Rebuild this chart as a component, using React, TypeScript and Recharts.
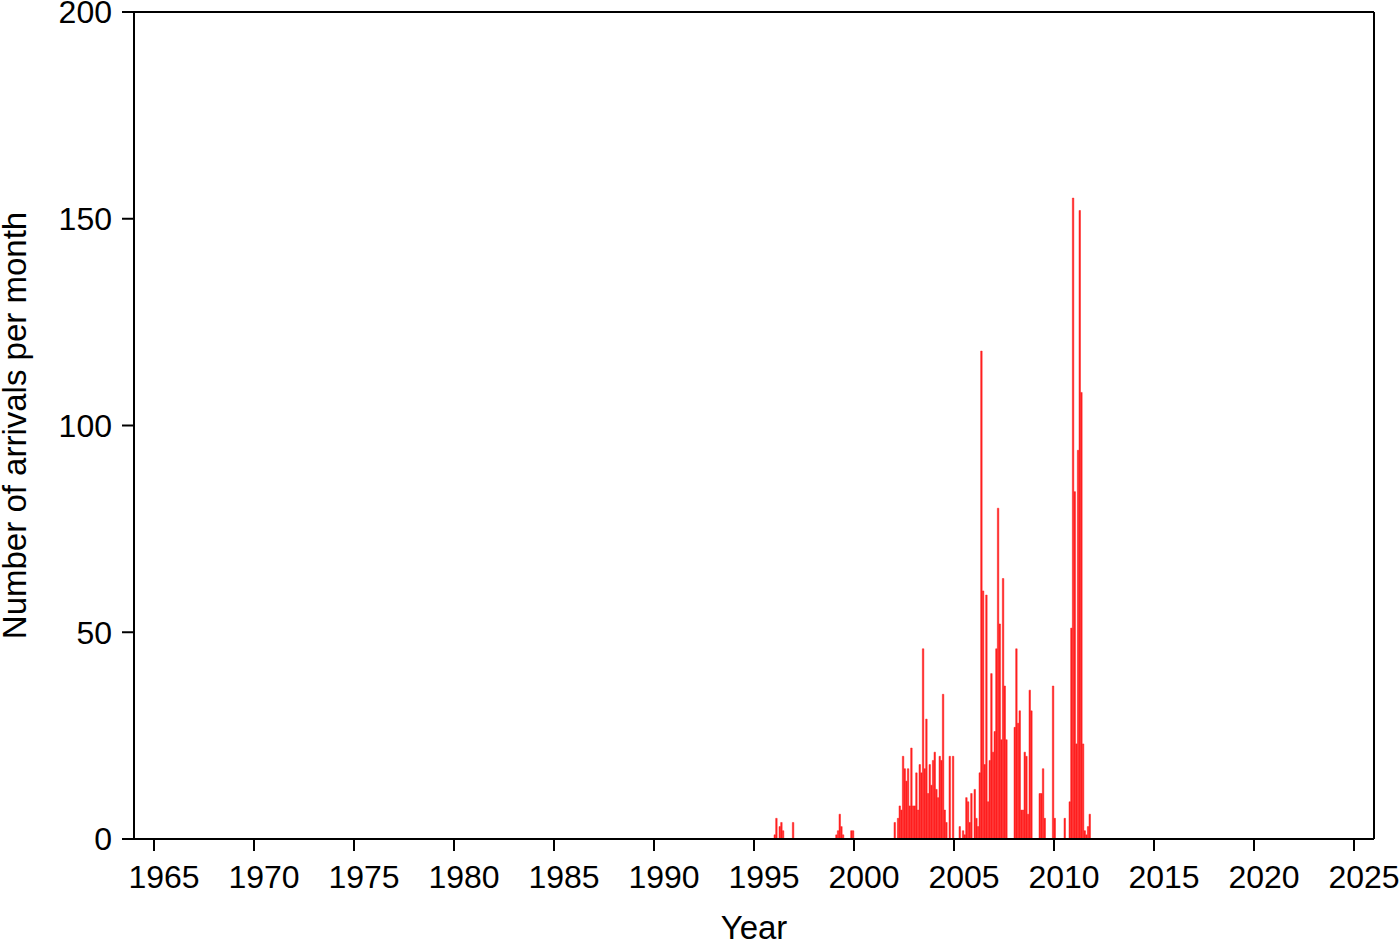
import React from "react";
import { BarChart, Bar, XAxis, YAxis, Label } from "recharts";

// monthly arrival counts, Jan..Dec
const years = [1996, 1997, 1998, 1999, 2000, 2001, 2002, 2003, 2004, 2005, 2006, 2007, 2008, 2009, 2010, 2011];
const counts: number[][] = [
  [1, 5, 0, 3, 4, 2, 0, 0, 0, 0, 0, 4],
  [0, 0, 0, 0, 0, 0, 0, 0, 0, 0, 0, 0],
  [0, 0, 0, 0, 0, 0, 0, 0, 0, 0, 0, 0],
  [0, 1, 2, 6, 3, 1, 0, 0, 0, 0, 2, 2],
  [0, 0, 0, 0, 0, 0, 0, 0, 0, 0, 0, 0],
  [0, 0, 0, 0, 0, 0, 0, 0, 0, 0, 0, 0],
  [4, 0, 5, 8, 7, 20, 17, 14, 17, 8, 22, 8],
  [8, 16, 7, 18, 16, 46, 17, 29, 11, 18, 13, 19],
  [21, 12, 10, 20, 19, 35, 7, 4, 0, 20, 0, 20],
  [0, 0, 0, 3, 0, 2, 1, 10, 9, 4, 11, 0],
  [12, 5, 3, 16, 118, 60, 18, 59, 9, 19, 40, 21],
  [26, 46, 80, 52, 24, 63, 37, 24, 0, 0, 0, 0],
  [27, 46, 28, 31, 7, 7, 21, 20, 6, 36, 31, 0],
  [0, 0, 0, 11, 11, 17, 5, 0, 0, 0, 0, 37],
  [5, 0, 0, 0, 0, 0, 5, 0, 0, 9, 51, 155],
  [84, 23, 94, 152, 108, 23, 2, 1, 3, 6, 0, 0],
];
const xTicks = [1965, 1970, 1975, 1980, 1985, 1990, 1995, 2000, 2005, 2010, 2015, 2020, 2025];
const yTicks = [0, 50, 100, 150, 200];

const data: { t: number; n: number }[] = [];
years.forEach((y, i) => {
  counts[i].forEach((n, m) => {
    data.push({ t: y + (m + 0.5) / 12, n });
  });
});

const font = "'Liberation Sans', Arial, Helvetica, sans-serif";
const line = { stroke: "#000", strokeWidth: 2 };
const tickFont = { fontSize: 32, fill: "#000", fontFamily: font };

const YLabel = (props: any) => {
  const vb = props.viewBox;
  const x = 26;
  const y = vb.y + vb.height / 2;
  return (
    <text
      x={x}
      y={y}
      transform={`rotate(-90, ${x}, ${y})`}
      textAnchor="middle"
      fontSize={33}
      fontFamily={font}
      fill="#000"
    >
      Number of arrivals per month
    </text>
  );
};

export default function App() {
  return (
    <div style={{ position: "absolute", left: 0, top: 0, background: "#fff" }}>
      <BarChart
        width={1400}
        height={942}
        data={data}
        margin={{ top: 0, right: 0, bottom: 0, left: 0 }}
        barGap={0}
        barCategoryGap={0}
        style={{ fontFamily: font }}
      >
        <XAxis
          dataKey="t"
          type="number"
          domain={[1964, 2026]}
          ticks={xTicks}
          interval={0}
          height={103}
          tickSize={12}
          tickMargin={14}
          axisLine={line}
          tickLine={line}
          tick={{ ...tickFont, dx: 10 }}
          allowDataOverflow
        >
          <Label value="Year" position="insideBottom" offset={3} fontSize={33} fill="#000" fontFamily={font} />
        </XAxis>
        <XAxis
          xAxisId="top"
          dataKey="t"
          type="number"
          orientation="top"
          domain={[1964, 2026]}
          ticks={xTicks}
          interval={0}
          height={12}
          tickSize={12}
          axisLine={line}
          tickLine={line}
          tick={false}
          allowDataOverflow
        />
        <YAxis
          domain={[0, 200]}
          ticks={yTicks}
          interval={0}
          width={134}
          tickSize={12}
          tickMargin={10}
          axisLine={line}
          tickLine={line}
          tick={tickFont}
          allowDataOverflow
        >
          <Label content={YLabel} />
        </YAxis>
        <YAxis
          yAxisId="right"
          orientation="right"
          domain={[0, 200]}
          ticks={yTicks}
          interval={0}
          width={26}
          tickSize={12}
          axisLine={line}
          tickLine={line}
          tick={false}
          allowDataOverflow
        />
        <Bar
          dataKey="n"
          fill="#ff2020"
          stroke="#ff2020"
          strokeWidth={0.5}
          barSize={1.7}
          isAnimationActive={false}
        />
      </BarChart>
    </div>
  );
}
